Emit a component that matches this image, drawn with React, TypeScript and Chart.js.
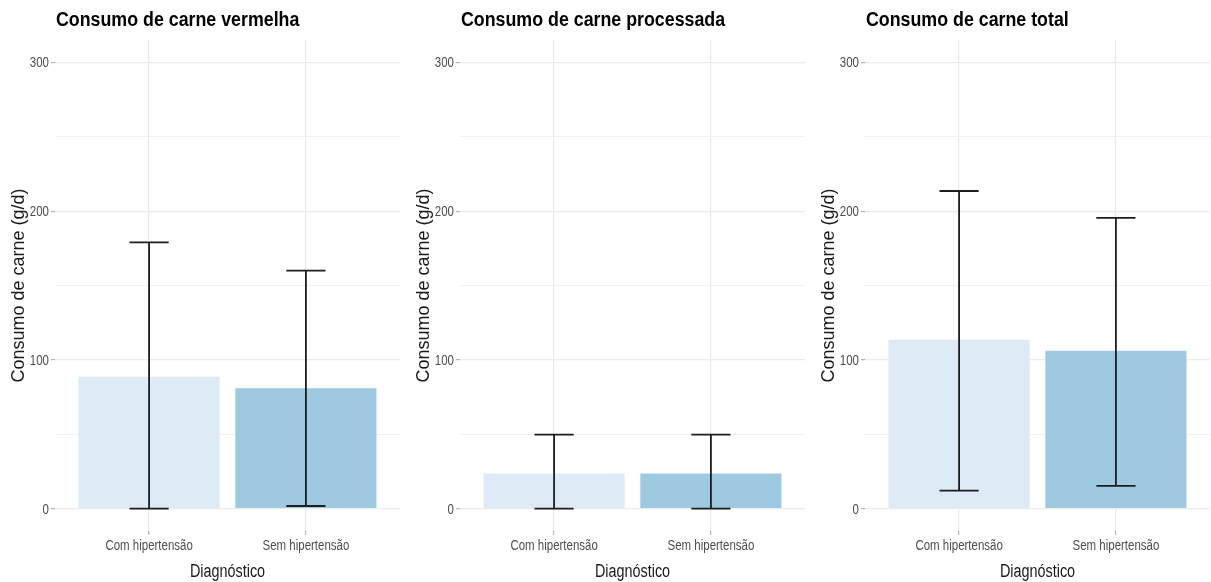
import React, { useEffect, useRef } from 'react';
import { Chart, registerables } from 'chart.js';

Chart.register(...registerables);

const categories = ['Com hipertensão', 'Sem hipertensão'];
const panelTitles = ['Consumo de carne vermelha', 'Consumo de carne processada', 'Consumo de carne total'];

const redMeans = [88.7, 81.0];
const redLower = [0, 1.8];
const redUpper = [179, 160];

const processedMeans = [23.6, 23.6];
const processedLower = [0, 0];
const processedUpper = [49.8, 49.8];

const totalMeans = [113.5, 106.1];
const totalLower = [12.2, 15.3];
const totalUpper = [213.5, 195.5];

const yTicks = [0, 50, 100, 150, 200, 250, 300];
const yLabelStep = 100;
const barColors = ['#DEEBF7', '#9ECAE1'];
const yAxisTitle = 'Consumo de carne (g/d)';
const xAxisTitle = 'Diagnóstico';

const REGULAR = '"Liberation Sans", Arial, sans-serif';
const NARROW_SCALE = 0.82;

const PANEL_W = 405;
const PANEL_H = 582;
const AXIS_W = 55;
const AREA_W = 345;
const AXIS_H = 51;
const TOP = 40;

type PanelProps = { title: string; means: number[]; lower: number[]; upper: number[] };

function drawNarrowText(ctx: any, text: string, x: number, y: number, font: string, color: string, align: string, sx: number) {
  ctx.save();
  ctx.translate(x, y);
  ctx.scale(sx, 1);
  ctx.font = font;
  ctx.fillStyle = color;
  ctx.textAlign = align;
  ctx.textBaseline = 'alphabetic';
  ctx.fillText(text, 0, 0);
  ctx.restore();
}

function Panel({ title, means, lower, upper }: PanelProps) {
  const ref = useRef<HTMLCanvasElement | null>(null);
  useEffect(() => {
    if (!ref.current) return;
    const textPlugin = {
      id: 'panelTexts',
      afterDraw(chart: any) {
        const { ctx, chartArea } = chart;
        const xs = chart.scales.x;
        const ys = chart.scales.y;
        // panel title
        drawNarrowText(ctx, title, chartArea.left + 1, 26, `bold 20px ${REGULAR}`, '#000000', 'left', 0.89);
        // x tick labels (from the scale's ticks)
        xs.ticks.forEach((t: any) => {
          const label = categories[Math.round(t.value) - 1];
          if (!label) return;
          drawNarrowText(ctx, label, xs.getPixelForValue(t.value), chartArea.bottom + 19, `14px ${REGULAR}`, '#4D4D4D', 'center', NARROW_SCALE);
        });
        // y tick labels
        ys.ticks.forEach((t: any) => {
          if (t.value % yLabelStep !== 0) return;
          drawNarrowText(ctx, String(t.value), chartArea.left - 6, ys.getPixelForValue(t.value) + 5, `14px ${REGULAR}`, '#4D4D4D', 'right', NARROW_SCALE);
        });
        // x axis title
        drawNarrowText(ctx, xAxisTitle, (chartArea.left + chartArea.right) / 2, chartArea.bottom + 46, `18px ${REGULAR}`, '#1A1A1A', 'center', 0.8);
      },
    };
    const errorPlugin = {
      id: 'errorBars',
      afterDatasetsDraw(chart: any) {
        const { ctx } = chart;
        const xs = chart.scales.x;
        const ys = chart.scales.y;
        ctx.save();
        ctx.strokeStyle = '#1E1E1E';
        ctx.lineWidth = 1.8;
        for (let i = 0; i < means.length; i++) {
          const xc = xs.getPixelForValue(i + 1);
          const half = xs.getPixelForValue(i + 1.125) - xc;
          const yl = ys.getPixelForValue(lower[i]);
          const yu = ys.getPixelForValue(upper[i]);
          ctx.beginPath();
          ctx.moveTo(xc, yl);
          ctx.lineTo(xc, yu);
          ctx.moveTo(xc - half, yl);
          ctx.lineTo(xc + half, yl);
          ctx.moveTo(xc - half, yu);
          ctx.lineTo(xc + half, yu);
          ctx.stroke();
        }
        ctx.restore();
      },
    };
    const chart = new Chart(ref.current, {
      type: 'bar',
      data: {
        datasets: [
          {
            data: means.map((v, i) => ({ x: i + 1, y: v })),
            backgroundColor: barColors,
            borderWidth: 0,
            barPercentage: 0.9,
            categoryPercentage: 1,
          },
        ],
      },
      options: {
        animation: false,
        responsive: false,
        devicePixelRatio: 1,
        layout: { padding: { left: 0, right: PANEL_W - AXIS_W - AREA_W, top: TOP, bottom: 0 } },
        plugins: { legend: { display: false }, tooltip: { enabled: false }, title: { display: false } },
        scales: {
          x: {
            type: 'linear',
            min: 0.4,
            max: 2.6,
            offset: false,
            afterBuildTicks: (s: any) => {
              s.ticks = categories.map((_, i) => ({ value: i + 1 }));
            },
            afterFit: (s: any) => {
              s.height = AXIS_H;
            },
            border: { display: false },
            grid: { offset: false, color: '#EBEBEB', lineWidth: 1.2, tickLength: 4, tickColor: '#B5B5B5' },
            ticks: { display: false, autoSkip: false },
            title: { display: false },
          },
          y: {
            type: 'linear',
            min: -15,
            max: 315,
            afterBuildTicks: (s: any) => {
              s.ticks = yTicks.map((v) => ({ value: v }));
            },
            afterFit: (s: any) => {
              s.width = AXIS_W;
            },
            border: { display: false },
            grid: {
              color: (c: any) => (c.tick && c.tick.value % yLabelStep === 0 ? '#EBEBEB' : '#F1F1F1'),
              lineWidth: (c: any) => (c.tick && c.tick.value % yLabelStep === 0 ? 1.2 : 1),
              tickLength: 4,
              tickColor: (c: any) => (c.tick && c.tick.value % yLabelStep === 0 ? '#B5B5B5' : 'rgba(0,0,0,0)'),
            },
            ticks: { display: false, autoSkip: false },
            title: {
              display: true,
              text: yAxisTitle,
              color: '#1A1A1A',
              font: { family: REGULAR, size: 18 },
              padding: { top: 8, bottom: 0 },
            },
          },
        },
      },
      plugins: [textPlugin, errorPlugin],
    } as any);
    return () => chart.destroy();
  }, [title, means, lower, upper]);
  return <canvas ref={ref} width={PANEL_W} height={PANEL_H} style={{ display: 'block', width: PANEL_W, height: PANEL_H }} />;
}

export default function App() {
  const panels = [
    { title: panelTitles[0], means: redMeans, lower: redLower, upper: redUpper },
    { title: panelTitles[1], means: processedMeans, lower: processedLower, upper: processedUpper },
    { title: panelTitles[2], means: totalMeans, lower: totalLower, upper: totalUpper },
  ];
  return (
    <div style={{ position: 'fixed', left: 0, top: 0, width: 1211, height: 582, background: '#FFFFFF', overflow: 'hidden' }}>
      {panels.map((p, i) => (
        <div key={i} style={{ position: 'absolute', left: i * PANEL_W, top: 0, width: PANEL_W, height: PANEL_H }}>
          <Panel title={p.title} means={p.means} lower={p.lower} upper={p.upper} />
        </div>
      ))}
    </div>
  );
}
